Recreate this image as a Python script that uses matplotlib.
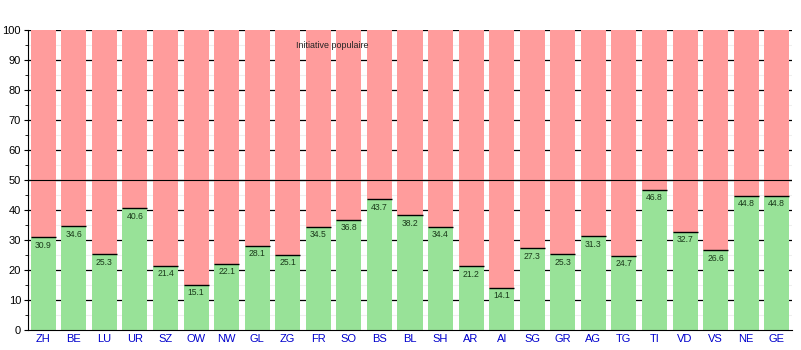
import numpy as np
import matplotlib.pyplot as plt

plt.rcParams['font.family'] = ['Liberation Sans', 'DejaVu Sans']

cantons = ["ZH", "BE", "LU", "UR", "SZ", "OW", "NW", "GL", "ZG", "FR", "SO", "BS", "BL",
           "SH", "AR", "AI", "SG", "GR", "AG", "TG", "TI", "VD", "VS", "NE", "GE"]
oui = [30.9, 34.6, 25.3, 40.6, 21.4, 15.1, 22.1, 28.1, 25.1, 34.5, 36.8, 43.7, 38.2,
       34.4, 21.2, 14.1, 27.3, 25.3, 31.3, 24.7, 46.8, 32.7, 26.6, 44.8, 44.8]

x = np.arange(len(cantons))
non = [100 - v for v in oui]

fig = plt.figure(figsize=(8.01, 3.5), dpi=100)
ax = fig.add_axes([28 / 801, 20 / 350, 764 / 801, 300 / 350])

# grid behind the bars
for yy in range(10, 101, 10):
    ax.axhline(yy, color="black", lw=0.9, zorder=0)
for yy in range(5, 100, 10):
    ax.axhline(yy, color="#eeeeee", lw=0.8, zorder=0)

w = 0.82
ax.bar(x, oui, width=w, color="#98e298", zorder=2)
ax.bar(x, non, width=w, bottom=oui, color="#ff9c9c", zorder=2)
ax.hlines(oui, x - w / 2, x + w / 2, color="black", lw=1.0, zorder=3)
for xi, v in zip(x, oui):
    ax.text(xi, v - 1.2, f"{v:.1f}", ha="center", va="top", fontsize=6.2, color="#1a3a1a", zorder=4)

ax.axhline(50, color="black", lw=0.8, zorder=5)
ax.text(9.45, 94.7, "Initiative populaire", ha="center", va="center", fontsize=6.4, color="#222222", zorder=5)

ax.set_xlim(-0.5, len(cantons) - 0.5)
ax.set_ylim(0, 100)
ax.set_yticks(range(0, 101, 10))
ax.set_yticks(range(5, 100, 10), minor=True)
ax.set_xticks(x)
ax.set_xticklabels(cantons, color="#0000cc", fontsize=8)
ax.tick_params(axis="y", labelsize=8, length=3, pad=2)
ax.tick_params(axis="y", which="minor", length=2)
ax.tick_params(axis="x", length=0, pad=3)
for s in ["top", "right"]:
    ax.spines[s].set_visible(False)

fig.savefig("out.png", dpi=100)
